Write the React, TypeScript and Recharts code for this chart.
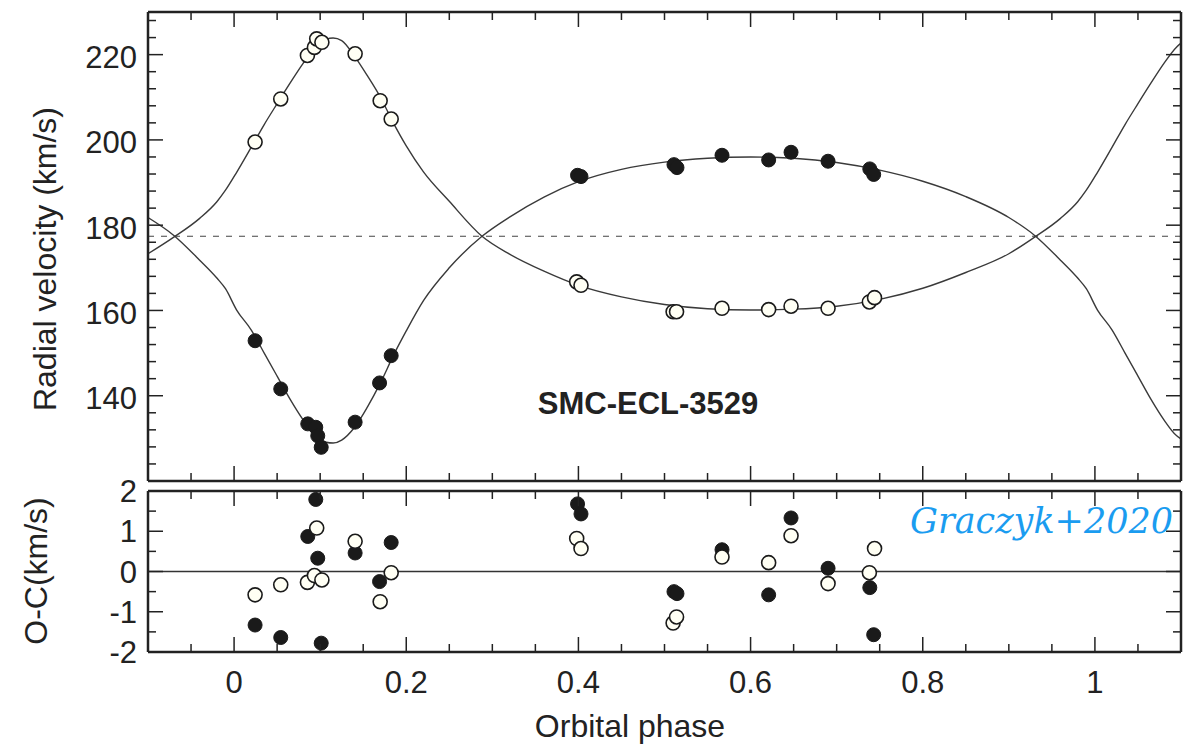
import React from 'react';
import { ComposedChart, Line, Scatter, XAxis, YAxis, ReferenceLine } from 'recharts';

const FONT = '"Liberation Sans", Arial, Helvetica, sans-serif';
const INK = '#222';

// axis ticks (minor + major) and which ones get a label
const phaseTicks = [-0.05, 0, 0.05, 0.1, 0.15, 0.2, 0.25, 0.3, 0.35, 0.4, 0.45, 0.5, 0.55, 0.6, 0.65, 0.7, 0.75, 0.8, 0.85, 0.9, 0.95, 1, 1.05];
const phaseMajor = [0, 0.2, 0.4, 0.6, 0.8, 1];
const rvTicks = [124, 128, 132, 136, 140, 144, 148, 152, 156, 160, 164, 168, 172, 176, 180, 184, 188, 192, 196, 200, 204, 208, 212, 216, 220, 224, 228];
const rvMajor = [140, 160, 180, 200, 220];
const ocTicks = [-2, -1.5, -1, -0.5, 0, 0.5, 1, 1.5, 2];
const ocMajor = [-2, -1, 0, 1, 2];

const gamma = 177.4;

// orbital solution curves
const modelPhase = [-0.1, -0.07, -0.04, -0.02, -0.01, 0.003, 0.02, 0.035, 0.05, 0.065, 0.08, 0.095, 0.107, 0.115, 0.125, 0.14, 0.155, 0.17, 0.185, 0.2, 0.22, 0.25, 0.288, 0.32, 0.36, 0.4, 0.45, 0.5, 0.55, 0.6, 0.65, 0.7, 0.75, 0.8, 0.85, 0.9, 0.93, 0.96, 0.98, 0.99, 1.003, 1.02, 1.035, 1.05, 1.065, 1.08, 1.095, 1.1];
const primaryModel = [181.8, 177.6, 171.8, 167.6, 165.1, 160.1, 155.4, 150.0, 144.6, 139.2, 134.4, 130.6, 129.1, 128.9, 129.6, 132.6, 137.4, 143.0, 149.4, 155.2, 162.3, 170.0, 177.4, 181.9, 186.6, 190.2, 193.1, 194.8, 195.7, 196.0, 195.7, 194.7, 192.9, 190.3, 186.7, 181.8, 177.6, 171.8, 167.6, 165.1, 160.1, 155.4, 150.0, 144.6, 139.2, 134.4, 130.6, 129.9];
const secondaryModel = [173.3, 177.2, 181.6, 185.5, 188.2, 192.4, 198.3, 203.6, 208.5, 213.3, 217.9, 221.8, 223.6, 223.9, 223.3, 219.6, 215.0, 210.0, 204.0, 198.6, 192.5, 185.6, 177.4, 173.2, 169.2, 165.9, 163.2, 161.4, 160.4, 160.1, 160.3, 161.0, 162.6, 165.2, 168.9, 173.3, 177.2, 181.6, 185.5, 188.2, 192.4, 198.3, 203.6, 208.5, 213.3, 217.9, 221.8, 222.7];

// measurements: primary (filled) and secondary (open)
const phaseP = [0.0244, 0.0542, 0.0856, 0.0949, 0.0972, 0.1012, 0.1406, 0.169, 0.1825, 0.399, 0.403, 0.511, 0.5145, 0.5668, 0.621, 0.647, 0.69, 0.7385, 0.743];
const rvP = [152.9, 141.6, 133.4, 132.6, 130.6, 127.9, 133.8, 143.0, 149.4, 191.7, 191.4, 194.2, 193.5, 196.4, 195.3, 197.1, 195.0, 193.2, 191.9];
const ocP = [-1.33, -1.64, 0.87, 1.79, 0.33, -1.78, 0.46, -0.25, 0.72, 1.68, 1.43, -0.5, -0.55, 0.54, -0.58, 1.33, 0.08, -0.4, -1.57];

const phaseS = [0.0244, 0.0542, 0.0852, 0.0933, 0.096, 0.102, 0.1406, 0.1697, 0.1825, 0.398, 0.403, 0.51, 0.514, 0.5668, 0.621, 0.647, 0.69, 0.738, 0.744];
const rvS = [199.5, 209.6, 219.8, 221.7, 223.7, 222.9, 220.2, 209.2, 204.9, 166.7, 165.9, 159.7, 159.7, 160.5, 160.2, 161.0, 160.5, 162.0, 163.0];
const ocS = [-0.58, -0.33, -0.27, -0.1, 1.08, -0.21, 0.75, -0.75, -0.03, 0.82, 0.57, -1.28, -1.13, 0.36, 0.22, 0.89, -0.3, -0.03, 0.57];

const zip = (xs: number[], ys: number[]) => xs.map((p, i) => ({ phase: p, v: ys[i] }));

const primaryCurve = zip(modelPhase, primaryModel);
const secondaryCurve = zip(modelPhase, secondaryModel);
const primaryRV = zip(phaseP, rvP);
const secondaryRV = zip(phaseS, rvS);
const primaryOC = zip(phaseP, ocP);
const secondaryOC = zip(phaseS, ocS);

// inward tick marks drawn from the frame, labels outside
function FrameTick(props: any) {
  const { x, y, payload, side, major, showLabel, dy = 11 } = props;
  const v = payload.value;
  const isMajor = major.some((m: number) => Math.abs(m - v) < 1e-6);
  const len = isMajor ? 15 : 8;
  let x2 = x;
  let y2 = y;
  if (side === 'bottom') y2 = y - len;
  if (side === 'top') y2 = y + len;
  if (side === 'left') x2 = x + len;
  if (side === 'right') x2 = x - len;
  let text = null;
  if (showLabel && isMajor) {
    if (side === 'bottom') {
      text = (
        <text x={x} y={y + 41} textAnchor="middle" fontSize={31} fill={INK} fontFamily={FONT}>
          {String(v)}
        </text>
      );
    } else if (side === 'left') {
      text = (
        <text x={x - 11} y={y + dy} textAnchor="end" fontSize={31} fill={INK} fontFamily={FONT}>
          {String(v)}
        </text>
      );
    }
  }
  return (
    <g>
      <line x1={x} y1={y} x2={x2} y2={y2} stroke={INK} strokeWidth={1.5} />
      {text}
    </g>
  );
}

const filledDot = (p: any) => <circle cx={p.cx} cy={p.cy} r={7} fill="#1a1a1a" stroke="#1a1a1a" strokeWidth={1} />;
const openDot = (p: any) => <circle cx={p.cx} cy={p.cy} r={7} fill="#fffff4" stroke="#1a1a1a" strokeWidth={1.6} />;

const frameLine = { stroke: INK, strokeWidth: 2.5 };

// four framing axes; each is 1px thick so Recharts still draws it
function Frame({ yTicks, yMajor, yDomain, xLabels, yDy }: any) {
  return [
    <XAxis
      key="xb"
      xAxisId="b"
      type="number"
      dataKey="phase"
      domain={[-0.1, 1.1]}
      allowDataOverflow
      ticks={phaseTicks}
      interval={0}
      height={1}
      tickSize={0}
      tickMargin={0}
      tickLine={false}
      axisLine={frameLine}
      tick={<FrameTick side="bottom" major={phaseMajor} showLabel={xLabels} />}
    />,
    <XAxis
      key="xt"
      xAxisId="t"
      orientation="top"
      type="number"
      dataKey="phase"
      domain={[-0.1, 1.1]}
      allowDataOverflow
      ticks={phaseTicks}
      interval={0}
      height={1}
      tickSize={0}
      tickMargin={0}
      tickLine={false}
      axisLine={frameLine}
      tick={<FrameTick side="top" major={phaseMajor} showLabel={false} />}
    />,
    <YAxis
      key="yl"
      yAxisId="l"
      type="number"
      dataKey="v"
      domain={yDomain}
      allowDataOverflow
      ticks={yTicks}
      interval={0}
      width={1}
      tickSize={0}
      tickMargin={0}
      tickLine={false}
      axisLine={frameLine}
      tick={<FrameTick side="left" major={yMajor} showLabel dy={yDy} />}
    />,
    <YAxis
      key="yr"
      yAxisId="r"
      orientation="right"
      type="number"
      dataKey="v"
      domain={yDomain}
      allowDataOverflow
      ticks={yTicks}
      interval={0}
      width={1}
      tickSize={0}
      tickMargin={0}
      tickLine={false}
      axisLine={frameLine}
      tick={<FrameTick side="right" major={yMajor} showLabel={false} />}
    />,
  ];
}

export default function App() {
  return (
    <div style={{ position: 'absolute', left: 0, top: 0, width: 1196, height: 750, background: '#fff', fontFamily: FONT }}>
      <div style={{ position: 'absolute', left: 0, top: 0 }}>
        <ComposedChart width={1196} height={486} margin={{ top: 11, right: 14, bottom: 4, left: 147 }}>
          {Frame({ yTicks: rvTicks, yMajor: rvMajor, yDomain: [120, 230], xLabels: false, yDy: 13.5 })}
          <ReferenceLine xAxisId="b" yAxisId="l" y={gamma} stroke="#444" strokeWidth={1.2} strokeDasharray="6 7" />
          <Line xAxisId="b" yAxisId="l" data={primaryCurve} dataKey="v" type="monotone" stroke="#3a3a3a" strokeWidth={1.4} dot={false} isAnimationActive={false} />
          <Line xAxisId="b" yAxisId="l" data={secondaryCurve} dataKey="v" type="monotone" stroke="#3a3a3a" strokeWidth={1.4} dot={false} isAnimationActive={false} />
          <Scatter xAxisId="b" yAxisId="l" data={primaryRV} dataKey="v" shape={filledDot} isAnimationActive={false} />
          <Scatter xAxisId="b" yAxisId="l" data={secondaryRV} dataKey="v" shape={openDot} isAnimationActive={false} />
        </ComposedChart>
      </div>
      <div style={{ position: 'absolute', left: 0, top: 466 }}>
        <ComposedChart width={1196} height={284} margin={{ top: 24, right: 14, bottom: 97, left: 147 }}>
          {Frame({ yTicks: ocTicks, yMajor: ocMajor, yDomain: [-2, 2], xLabels: true, yDy: 11 })}
          <ReferenceLine xAxisId="b" yAxisId="l" y={0} stroke="#333" strokeWidth={1.5} />
          <Scatter xAxisId="b" yAxisId="l" data={primaryOC} dataKey="v" shape={filledDot} isAnimationActive={false} />
          <Scatter xAxisId="b" yAxisId="l" data={secondaryOC} dataKey="v" shape={openDot} isAnimationActive={false} />
        </ComposedChart>
      </div>
      <svg width={1196} height={750} style={{ position: 'absolute', left: 0, top: 0, pointerEvents: 'none' }}>
        <text transform="translate(56,259) rotate(-90)" textAnchor="middle" fontSize={32} fill={INK} fontFamily={FONT}>
          Radial velocity (km/s)
        </text>
        <text transform="translate(47,571) rotate(-90)" textAnchor="middle" fontSize={32} fill={INK} fontFamily={FONT}>
          O-C(km/s)
        </text>
        <text x={630} y={737} textAnchor="middle" fontSize={32} fill={INK} fontFamily={FONT}>
          Orbital phase
        </text>
        <text x={648} y={414} textAnchor="middle" fontSize={31} fontWeight="bold" fill={INK} fontFamily={FONT}>
          SMC-ECL-3529
        </text>
        <text x={1173} y={533} textAnchor="end" fontSize={35} fontStyle="italic" fill="#1a9cf0" fontFamily='"DejaVu Serif", serif'>
          Graczyk+2020
        </text>
      </svg>
    </div>
  );
}
